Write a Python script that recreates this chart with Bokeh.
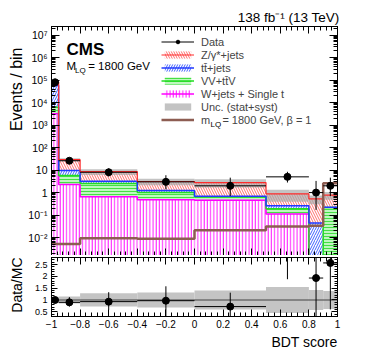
import numpy as np
from bokeh.plotting import figure
from bokeh.models import (Range1d, FixedTicker, CustomJSTickFormatter, LinearAxis, LogAxis,
                          Label, Legend, LegendItem, Title)
from bokeh.layouts import column
from bokeh.embed import file_html
from bokeh.resources import INLINE

# ---------------- data ----------------
edges = [-1.0, -0.95, -0.8, -0.4, 0.0, 0.5, 0.8, 0.9, 1.0]
data = [80000, 26, 8, 3, 2, 5, 1, 2]
data_err_lo = [283, 5.1, 2.8, 1.6, 1.3, 2.2, 0.83, 1.3]
data_err_hi = [283, 6.2, 3.9, 2.9, 2.6, 3.4, 2.3, 2.6]
wjets = [3200, 2.3, 0.66, 0.48, 0.46, 0.113, 0.0, 0.0]
vv_ttv = [3000, 3.5, 1.9, 0.52, 0.20, 0.08, 0.0, 0.22]
ttbar = [51000, 3.7, 0.6, 0.23, 0.02, 0.07, 0.044, 0.005]
zjets = [23000, 19.5, 5.3, 1.87, 2.1, 0.61, 0.48, 0.55]
unc_rel = [0.13, 0.15, 0.28, 0.32, 0.40, 0.55, 0.42, 0.38]
signal = [0.0052, 0.0052, 0.0093, 0.0088, 0.021, 0.031, 0.034, 2.6]
ratio = [1.0, 0.9, 0.93, 0.97, 0.72, 6.0, 1.93, 2.57]
ratio_lo = [0.98, 0.72, 0.58, 0.2, 0.2, 1.88, 0.2, 0.6]
ratio_hi = [1.02, 1.12, 1.33, 1.58, 1.31, 9.0, 9.0, 9.0]

x_tick_values = [-1.0, -0.8, -0.6, -0.4, -0.2, 0.0, 0.2, 0.4, 0.6, 0.8, 1.0]
y_decades = list(range(-2, 8))
ratio_tick_values = [0.5, 1.0, 1.5, 2.0, 2.5]

FONT = "Liberation Sans"
FLOOR = 1e-5
YLO, YHI = 1.6e-3, 2.4e7

lo_e = edges[:-1]
hi_e = edges[1:]
centers = [(a + b) / 2 for a, b in zip(lo_e, hi_e)]
c1 = np.array(wjets, float)
c2 = c1 + np.array(vv_ttv)
c3 = c2 + np.array(ttbar)
c4 = c3 + np.array(zjets)
total = c4
dat = np.array(data, float)


def fl(a):
    return np.maximum(np.asarray(a, float), FLOOR)


def step_y(c):
    c = list(fl(c))
    return c + [c[-1]]


def style_axis(ax, major_in, minor_in, labels=True, size="10px", standoff=4):
    ax.major_tick_in = major_in
    ax.major_tick_out = 0
    ax.minor_tick_in = minor_in
    ax.minor_tick_out = 0
    ax.axis_line_color = "black"
    ax.major_tick_line_color = "black"
    ax.minor_tick_line_color = "black"
    ax.major_label_text_font = FONT
    ax.major_label_text_color = "black"
    if labels:
        ax.major_label_text_font_size = size
        ax.major_label_standoff = standoff
    else:
        ax.major_label_text_font_size = "0px"
        ax.major_label_standoff = 0
        ax.formatter = CustomJSTickFormatter(code="return '';")


x_minor = [round(-1 + 0.04 * i, 4) for i in range(51)]
xt = FixedTicker(ticks=x_tick_values, minor_ticks=x_minor)
yt = FixedTicker(ticks=[10.0 ** k for k in y_decades],
                 minor_ticks=[m * 10.0 ** k for k in range(-3, 8) for m in range(2, 10)])

log_fmt = CustomJSTickFormatter(code="""
const e = Math.round(Math.log10(tick));
if (e == 0) return "1";
if (e == 1) return "10";
const sup = {"-":"\u207b","0":"\u2070","1":"\u00b9","2":"\u00b2","3":"\u00b3","4":"\u2074","5":"\u2075","6":"\u2076","7":"\u2077","8":"\u2078","9":"\u2079"};
let s = "";
for (const c of String(e)) s += sup[c];
return "10" + s;
""")
x_fmt = CustomJSTickFormatter(code="""
const v = Math.round(tick*10)/10;
if (Math.abs(v) < 1e-9) return "0";
let s = (Math.abs(v - Math.round(v)) < 1e-9) ? String(Math.round(v)) : v.toFixed(1);
return s.replace("-", "\u2212");
""")
r_fmt = CustomJSTickFormatter(code="return String(Math.round(tick*10)/10);")

W = 370
# ---------------- main panel ----------------
p = figure(width=W, height=255, y_axis_type="log",
           x_range=Range1d(-1, 1), y_range=Range1d(YLO, YHI),
           output_backend="svg", toolbar_location=None,
           min_border_left=45, min_border_right=33, min_border_top=26, min_border_bottom=0)
p.grid.visible = False
p.outline_line_color = "black"
p.background_fill_color = "white"

RED, BLUE, GREEN, MAG = "#ff2a2a", "#2038ff", "#22dd22", "#ff00ff"

rW = p.quad(left=lo_e, right=hi_e, bottom=FLOOR, top=fl(c1), fill_color="white", line_color=None,
            hatch_pattern="|", hatch_color=MAG, hatch_scale=3.2, hatch_weight=0.9)
rV = p.quad(left=lo_e, right=hi_e, bottom=fl(c1), top=fl(c2), fill_color="#bff7bf", line_color=None,
            hatch_pattern="-", hatch_color="#44e044", hatch_scale=3, hatch_weight=1)
rT = p.quad(left=lo_e, right=hi_e, bottom=fl(c2), top=fl(c3), fill_color="white", line_color=None,
            hatch_pattern="/", hatch_color="#4060ff", hatch_scale=5, hatch_weight=1)
rZ = p.quad(left=lo_e, right=hi_e, bottom=fl(c3), top=fl(c4), fill_color="white", line_color=None,
            hatch_pattern="\\", hatch_color="#ff7070", hatch_scale=5, hatch_weight=1)

rU = p.quad(left=lo_e, right=hi_e, bottom=total * (1 - np.array(unc_rel)),
            top=total * (1 + np.array(unc_rel)), fill_color="#a9a9a9", fill_alpha=0.7, line_color=None)

lW = p.step(x=edges, y=step_y(c1), mode="after", line_color=MAG, line_width=1.5)
lV = p.step(x=edges, y=step_y(c2), mode="after", line_color=GREEN, line_width=1.5)
lT = p.step(x=edges, y=step_y(c3), mode="after", line_color=BLUE, line_width=1.5)
lZ = p.step(x=edges, y=step_y(c4), mode="after", line_color=RED, line_width=1.2)

lS = p.step(x=edges, y=signal + [signal[-1]], mode="after", line_color="#8d5d52", line_width=2.5)

dX = p.segment(x0=lo_e, y0=data, x1=hi_e, y1=data, line_color="black", line_width=1)
p.segment(x0=centers, y0=dat - np.array(data_err_lo), x1=centers, y1=dat + np.array(data_err_hi),
          line_color="black", line_width=1)
dP = p.scatter(x=centers, y=data, size=7, color="black")

style_axis(p.xaxis[0], 7, 4, labels=False)
p.xaxis[0].ticker = xt
top_ax = LinearAxis(ticker=xt)
style_axis(top_ax, 7, 4, labels=False)
p.add_layout(top_ax, "above")

p.yaxis[0].ticker = yt
p.yaxis[0].formatter = log_fmt
style_axis(p.yaxis[0], 8, 4, labels=True, size="10.5px", standoff=4)
right_ax = LogAxis(ticker=yt)
style_axis(right_ax, 8, 4, labels=False)
p.add_layout(right_ax, "right")

legend = Legend(items=[
    LegendItem(label="Data", renderers=[dX, dP]),
    LegendItem(label="Z/\u03b3*+jets", renderers=[rZ, lZ]),
    LegendItem(label="tt\u0304+jets", renderers=[rT, lT]),
    LegendItem(label="VV+tt\u0304V", renderers=[rV, lV]),
    LegendItem(label="W+jets + Single t", renderers=[rW, lW]),
    LegendItem(label="Unc. (stat+syst)", renderers=[rU]),
    LegendItem(label="m\u00a0\u00a0\u00a0 = 1800 GeV, \u03b2 = 1", renderers=[lS]),
], location=(110, 129), glyph_width=33, glyph_height=9, label_height=13, spacing=0,
    padding=0, margin=0, label_standoff=7, label_text_font=FONT, label_text_font_size="11px",
    border_line_color=None, background_fill_alpha=0)
p.add_layout(legend)


def lab(fig, text, x, y, size, **kw):
    fig.add_layout(Label(x=x, y=y, x_units="screen", y_units="screen", text=text,
                         text_font=FONT, text_font_size=size, text_color="black",
                         text_baseline="alphabetic", **kw))


def ttl(fig, text, side, size, standoff, offset=0):
    fig.add_layout(Title(text=text, align="right", text_font=FONT, text_font_size=size,
                         text_font_style="normal", text_color="black", standoff=standoff,
                         offset=offset), side)


lab(p, "CMS", 15, 206, "17px", text_font_style="bold")
lab(p, "M", 15, 190, "11.5px")
lab(p, "LQ", 23.5, 185, "8px")
lab(p, "= 1800 GeV", 36.7, 190, "11.5px")
lab(p, "LQ", 159, 131, "8px")
ttl(p, "138 fb\u207b\u00b9 (13 TeV)", "above", "13.5px", 3, offset=-2)
ttl(p, "Events / bin", "left", "16px", 2, offset=21)

# ---------------- ratio panel ----------------
r = figure(width=W, height=106, x_range=p.x_range, y_range=Range1d(0.3, 2.8),
           output_backend="svg", toolbar_location=None,
           min_border_left=45, min_border_right=33, min_border_top=2, min_border_bottom=45)
r.grid.visible = False
r.outline_line_color = "black"

r.quad(left=lo_e, right=hi_e, bottom=1 - np.array(unc_rel), top=1 + np.array(unc_rel),
       fill_color="#c4c4c4", line_color=None)
r.line(x=[-1, 1], y=[1, 1], line_color="#6e6e6e", line_width=1.5)
r.segment(x0=lo_e, y0=ratio, x1=hi_e, y1=ratio, line_color="black", line_width=1)
r.segment(x0=centers, y0=ratio_lo, x1=centers, y1=ratio_hi, line_color="black", line_width=1)
r.scatter(x=centers, y=ratio, size=7, color="black")

r.xaxis[0].ticker = xt
r.xaxis[0].formatter = x_fmt
style_axis(r.xaxis[0], 7, 4, labels=True, size="10px", standoff=3)
rt = LinearAxis(ticker=xt)
style_axis(rt, 7, 4, labels=False)
r.add_layout(rt, "above")
ryt = FixedTicker(ticks=ratio_tick_values, minor_ticks=[round(0.3 + 0.1 * i, 2) for i in range(26)])
r.yaxis[0].ticker = ryt
r.yaxis[0].formatter = r_fmt
style_axis(r.yaxis[0], 6, 3, labels=True, size="9px", standoff=4)
rr = LinearAxis(ticker=ryt)
style_axis(rr, 6, 3, labels=False)
r.add_layout(rr, "right")

ttl(r, "Data/MC", "left", "14px", 13)
ttl(r, "BDT score", "below", "14px", 2)

layout = column(p, r, spacing=0)
open("out.html", "w").write(file_html(layout, INLINE))
